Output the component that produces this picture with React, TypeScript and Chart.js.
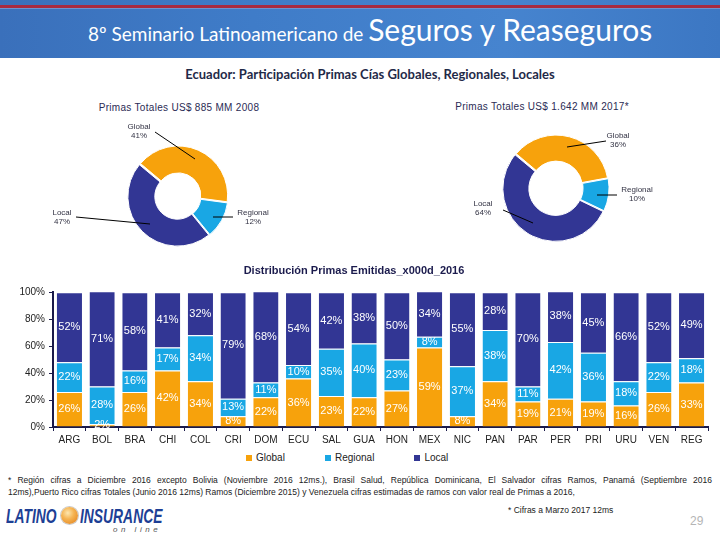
import React, { useEffect, useRef } from 'react';
import { Chart, registerables } from 'chart.js';

Chart.register(...registerables);

const categories = ['ARG', 'BOL', 'BRA', 'CHI', 'COL', 'CRI', 'DOM', 'ECU', 'SAL', 'GUA', 'HON', 'MEX', 'NIC', 'PAN', 'PAR', 'PER', 'PRI', 'URU', 'VEN', 'REG'];
const globalShare = [26, 2, 26, 42, 34, 8, 22, 36, 23, 22, 27, 59, 8, 34, 19, 21, 19, 16, 26, 33];
const regionalShare = [22, 28, 16, 17, 34, 13, 11, 10, 35, 40, 23, 8, 37, 38, 11, 42, 36, 18, 22, 18];
const localShare = [52, 71, 58, 41, 32, 79, 68, 54, 42, 38, 50, 34, 55, 28, 70, 38, 45, 66, 52, 49];
const yTicks = [0, 20, 40, 60, 80, 100];

const segmentNames = ['Global', 'Regional', 'Local'];
const segmentColors = ['#F7A20C', '#19A7E4', '#323694'];

const donut2008Values = [41, 12, 47];
const donut2008Labels = ['41%', '12%', '47%'];
// arcs as drawn in the source; the printed label of the local slice reads 64%
const donut2017Values = [36, 10, 54];
const donut2017Labels = ['36%', '10%', '64%'];

const FONT = '"Liberation Sans", Arial, sans-serif';

const leaderPlugin = {
  id: 'leaders',
  afterDatasetsDraw(chart: any, _args: any, opts: any) {
    const meta = chart.getDatasetMeta(0);
    const arc = meta.data[0];
    if (!arc) return;
    const cx = arc.x;
    const cy = arc.y;
    const ctx = chart.ctx;
    ctx.save();
    opts.items.forEach((it: any, i: number) => {
      ctx.strokeStyle = '#000';
      ctx.lineWidth = 1;
      ctx.beginPath();
      ctx.moveTo(cx + it.line[0], cy + it.line[1]);
      ctx.lineTo(cx + it.line[2], cy + it.line[3]);
      ctx.stroke();
      ctx.fillStyle = '#333344';
      ctx.font = '8px ' + FONT;
      ctx.textAlign = 'center';
      ctx.textBaseline = 'middle';
      ctx.fillText(chart.data.labels[i], cx + it.text[0], cy + it.text[1]);
      ctx.fillText(opts.values[i], cx + it.text[0], cy + it.text[1] + 9);
    });
    ctx.restore();
  },
};

const barLabelPlugin = {
  id: 'barLabels',
  afterDatasetsDraw(chart: any) {
    const ctx = chart.ctx;
    ctx.save();
    ctx.fillStyle = '#ffffff';
    ctx.font = '11px ' + FONT;
    ctx.textAlign = 'center';
    ctx.textBaseline = 'middle';
    chart.data.datasets.forEach((ds: any, di: number) => {
      const meta = chart.getDatasetMeta(di);
      meta.data.forEach((el: any, i: number) => {
        const v = ds.data[i];
        if (!v) return;
        ctx.fillText(v + '%', el.x, (el.y + el.base) / 2);
      });
    });
    ctx.restore();
  },
};

function Donut(props: { values: number[]; labels: string[]; cutout: string; padding: any; items: any[]; w: number; h: number }) {
  const ref = useRef<HTMLCanvasElement | null>(null);
  useEffect(() => {
    if (!ref.current) return;
    const chart = new Chart(ref.current, {
      type: 'doughnut',
      data: {
        labels: segmentNames,
        datasets: [
          {
            data: props.values,
            backgroundColor: segmentColors,
            borderColor: '#ffffff',
            borderWidth: 1,
            offset: 3,
          },
        ],
      },
      options: {
        animation: false,
        responsive: false,
        maintainAspectRatio: false,
        rotation: -50,
        cutout: props.cutout,
        layout: { padding: props.padding },
        plugins: {
          legend: { display: false },
          tooltip: { enabled: false },
          leaders: { items: props.items, values: props.labels },
        } as any,
      },
      plugins: [leaderPlugin as any],
    });
    return () => chart.destroy();
  }, []);
  return <canvas ref={ref} width={props.w} height={props.h} style={{ width: props.w, height: props.h, display: 'block' }} />;
}

function Bars() {
  const ref = useRef<HTMLCanvasElement | null>(null);
  useEffect(() => {
    if (!ref.current) return;
    const shares = [globalShare, regionalShare, localShare];
    const axisColor = '#1a1a4a';
    const chart = new Chart(ref.current, {
      type: 'bar',
      data: {
        labels: categories,
        datasets: shares.map((d, i) => ({
          label: segmentNames[i],
          data: d,
          backgroundColor: segmentColors[i],
          borderColor: '#ffffff',
          borderWidth: { top: 1, left: 0, right: 0, bottom: 0 },
          barPercentage: 0.77,
          categoryPercentage: 1,
        })),
      },
      options: {
        animation: false,
        responsive: false,
        maintainAspectRatio: false,
        layout: { padding: { left: 0, right: 12, top: 0, bottom: 0 } },
        plugins: {
          legend: { display: false },
          tooltip: { enabled: false },
          title: {
            display: true,
            text: 'Distribución Primas Emitidas_x000d_2016',
            color: '#1b1b4d',
            font: { family: FONT, size: 11, weight: 'bold' },
            padding: { top: 2, bottom: 15 },
          },
        },
        scales: {
          x: {
            stacked: true,
            grid: { display: true, drawOnChartArea: false, drawTicks: true, tickLength: 4, color: axisColor, offset: true },
            border: { display: true, color: axisColor, width: 2 },
            ticks: { color: '#222222', font: { family: FONT, size: 10 }, padding: 3, autoSkip: false, maxRotation: 0 },
            afterFit: (s: any) => {
              s.height = 25;
            },
          },
          y: {
            stacked: true,
            min: 0,
            max: 100,
            afterBuildTicks: (s: any) => {
              s.ticks = yTicks.map((v) => ({ value: v }));
            },
            grid: { display: true, drawOnChartArea: false, drawTicks: true, tickLength: 4, color: axisColor },
            border: { display: true, color: axisColor, width: 2 },
            ticks: { color: '#222222', font: { family: FONT, size: 10 }, padding: 4, callback: (v: any) => v + '%' },
            afterFit: (s: any) => {
              s.width = 53;
            },
          },
        },
      },
      plugins: [barLabelPlugin as any],
    });
    return () => chart.destroy();
  }, []);
  return <canvas ref={ref} width={720} height={190} style={{ width: 720, height: 190, display: 'block' }} />;
}

export default function App() {
  const abs = (s: any) => ({ position: 'absolute' as const, ...s });
  return (
    <div style={{ position: 'fixed', left: 0, top: 0, width: 720, height: 540, overflow: 'hidden', background: '#ffffff', fontFamily: FONT }}>
      {/* header banner */}
      <div style={abs({ left: 0, top: 0, width: 720, height: 58, background: 'linear-gradient(90deg, #3a70bb 0%, #3f7cc8 35%, #4684cf 70%, #3c77c3 100%)' })} />
      <div style={abs({ left: 0, top: 5, width: 720, height: 3, background: '#a82a40' })} />
      <div style={abs({ left: 0, top: 8, width: 720, height: 1, background: '#6d93cf' })} />
      <div style={abs({ left: 88, top: 14, whiteSpace: 'nowrap', lineHeight: '30px', color: '#ffffff', fontFamily: 'Lato, sans-serif', display: 'flex', alignItems: 'baseline' })}>
        <span style={{ fontSize: 19 }}>8º Seminario Latinoamericano de&nbsp;</span>
        <span style={{ fontSize: 30 }}>Seguros y Reaseguros</span>
      </div>

      {/* subtitle */}
      <div style={abs({ left: 0, top: 66, width: 740, textAlign: 'center', fontFamily: 'Lato, sans-serif', fontWeight: 'bold', fontSize: 13, color: '#1f2a48', lineHeight: '16px' })}>
        Ecuador: Participación Primas Cías Globales, Regionales, Locales
      </div>

      {/* donut titles */}
      <div style={abs({ left: 79, top: 102, width: 200, textAlign: 'center', fontSize: 10, letterSpacing: 0.3, color: '#2b2b55', lineHeight: '12px' })}>
        Primas Totales US$ 885 MM 2008
      </div>
      <div style={abs({ left: 442, top: 101, width: 200, textAlign: 'center', fontSize: 10, letterSpacing: 0.3, color: '#2b2b55', lineHeight: '12px' })}>
        Primas Totales US$ 1.642 MM 2017*
      </div>

      <div style={abs({ left: 40, top: 115 })}>
        <Donut
          values={donut2008Values}
          labels={donut2008Labels}
          cutout="45%"
          w={260}
          h={145}
          padding={{ left: 87, top: 30, right: 71, bottom: 13 }}
          items={[
            { line: [17, -37, -23, -64], text: [-39, -69] },
            { line: [35, 21, 55, 21], text: [75, 17] },
            { line: [-28, 28, -102, 21], text: [-116, 17] },
          ]}
        />
      </div>
      <div style={abs({ left: 440, top: 115 })}>
        <Donut
          values={donut2017Values}
          labels={donut2017Labels}
          cutout="50%"
          w={270}
          h={145}
          padding={{ left: 62, top: 19, right: 100, bottom: 18 }}
          items={[
            { line: [11, -41, 50, -47], text: [62, -52] },
            { line: [41, 7, 61, 7], text: [81, 2] },
            { line: [-23, 35, -53, 22], text: [-73, 16] },
          ]}
        />
      </div>

      {/* stacked bars */}
      <div style={abs({ left: 0, top: 262 })}>
        <Bars />
      </div>

      {/* legend */}
      <div style={abs({ left: 246, top: 452, display: 'flex', gap: 40, alignItems: 'center', fontSize: 10, color: '#222222', lineHeight: '12px' })}>
        {segmentNames.map((n, i) => (
          <div key={n} style={{ display: 'flex', alignItems: 'center' }}>
            <span style={{ display: 'inline-block', width: 6, height: 6, background: segmentColors[i], marginRight: 4 }} />
            <span>{n}</span>
          </div>
        ))}
      </div>

      {/* footnotes */}
      <div style={abs({ left: 8, top: 475, width: 704, fontSize: 8.5, color: '#222222', lineHeight: '11px', textAlign: 'justify', textAlignLast: 'justify', whiteSpace: 'nowrap' as any })}>
        * Región cifras a Diciembre 2016 excepto Bolivia (Noviembre 2016 12ms.), Brasil Salud, República Dominicana, El Salvador cifras Ramos, Panamá (Septiembre 2016
      </div>
      <div style={abs({ left: 8, top: 487, fontSize: 8.5, color: '#222222', lineHeight: '11px', whiteSpace: 'nowrap' })}>
        12ms),Puerto Rico cifras Totales (Junio 2016 12ms) Ramos (Diciembre 2015) y Venezuela cifras estimadas de ramos con valor real de Primas a 2016,
      </div>
      <div style={abs({ left: 508, top: 505, fontSize: 8.5, color: '#222222', lineHeight: '11px', whiteSpace: 'nowrap' })}>
        * Cifras a Marzo 2017 12ms
      </div>
      <div style={abs({ left: 690, top: 514, fontSize: 12, color: '#b5b5b5', lineHeight: '14px' })}>29</div>

      {/* logo */}
      <div style={abs({ left: 6, top: 505, fontSize: 21, fontWeight: 'bold', fontStyle: 'italic', color: '#1d3f95', lineHeight: '22px', transform: 'scaleX(0.66)', transformOrigin: 'left top', whiteSpace: 'nowrap' })}>
        LATINO
      </div>
      <div style={abs({ left: 61, top: 507, width: 17, height: 17, borderRadius: '50%', background: 'radial-gradient(circle at 40% 35%, #fde7b0 0%, #f5b453 40%, #e07b15 100%)', boxShadow: '0 0 0 1px #c9c9c9' })} />
      <div style={abs({ left: 80, top: 505, fontSize: 21, fontWeight: 'bold', fontStyle: 'italic', color: '#1d3f95', lineHeight: '22px', transform: 'scaleX(0.66)', transformOrigin: 'left top', whiteSpace: 'nowrap' })}>
        INSURANCE
      </div>
      <div style={abs({ left: 113, top: 525, fontSize: 8, fontStyle: 'italic', color: '#555555', letterSpacing: 3.5, lineHeight: '10px', whiteSpace: 'nowrap' })}>
        on line
      </div>
    </div>
  );
}
